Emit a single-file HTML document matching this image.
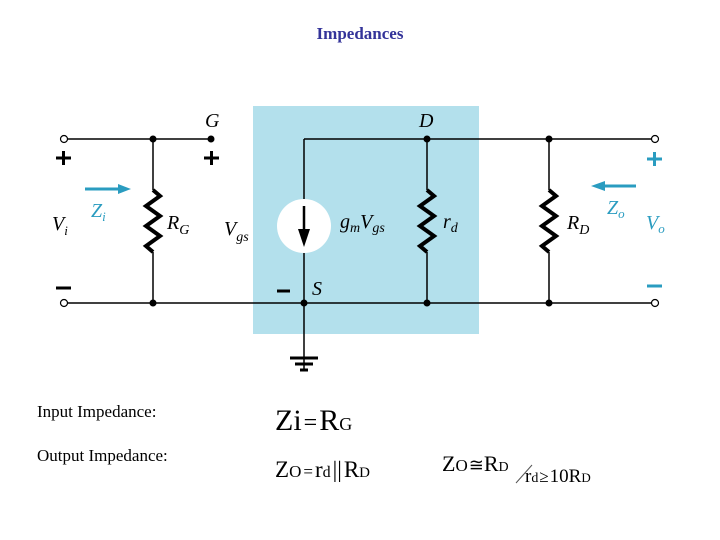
<!DOCTYPE html>
<html><head><meta charset="utf-8"><style>
html,body{margin:0;padding:0;background:#fff;width:720px;height:540px;overflow:hidden}
svg{display:block}
</style></head><body>
<svg width="720" height="540" viewBox="0 0 720 540" xmlns="http://www.w3.org/2000/svg" font-family="Liberation Serif, serif">
<text x="360" y="39" text-anchor="middle" font-size="17" font-weight="bold" fill="#333399">Impedances</text>
<rect x="253" y="106" width="226" height="228" fill="#b3e0ec"/>
<g stroke="#000" stroke-width="1.5" fill="none">
<line x1="67" y1="139" x2="211" y2="139"/>
<line x1="304" y1="139" x2="652" y2="139"/>
<line x1="67" y1="303" x2="652" y2="303"/>
<line x1="304" y1="139" x2="304" y2="370"/>
<line x1="153" y1="139" x2="153" y2="190"/><line x1="153" y1="252" x2="153" y2="303"/>
<line x1="427" y1="139" x2="427" y2="190"/><line x1="427" y1="252" x2="427" y2="303"/>
<line x1="549" y1="139" x2="549" y2="190"/><line x1="549" y1="252" x2="549" y2="303"/>
</g>
<g stroke="#000" stroke-width="4" fill="none" stroke-linejoin="miter">
<polyline points="153,190 160,196 146,206 160,216 146,226 160,236 146,246 153,252"/>
<polyline points="427,190 434,196 420,206 434,216 420,226 434,236 420,246 427,252"/>
<polyline points="549,190 556,196 542,206 556,216 542,226 556,236 542,246 549,252"/>
</g>
<circle cx="304" cy="226" r="27" fill="#fff"/>
<line x1="304" y1="206" x2="304" y2="232" stroke="#000" stroke-width="2.5"/>
<polygon points="298,229 310,229 304,247" fill="#000"/>
<g stroke="#000" stroke-width="3">
<line x1="290" y1="358" x2="318" y2="358"/><line x1="295" y1="364" x2="313" y2="364"/><line x1="300" y1="370" x2="308" y2="370"/>
</g>
<g fill="#000">
<circle cx="153" cy="139" r="3.5"/><circle cx="211" cy="139" r="3.5"/><circle cx="427" cy="139" r="3.5"/><circle cx="549" cy="139" r="3.5"/>
<circle cx="153" cy="303" r="3.5"/><circle cx="304" cy="303" r="3.5"/><circle cx="427" cy="303" r="3.5"/><circle cx="549" cy="303" r="3.5"/>
</g>
<g fill="#fff" stroke="#000" stroke-width="1.2">
<circle cx="64" cy="139" r="3.5"/><circle cx="64" cy="303" r="3.5"/><circle cx="655" cy="139" r="3.5"/><circle cx="655" cy="303" r="3.5"/>
</g>
<g stroke="#000" stroke-width="3">
<line x1="56" y1="158" x2="71" y2="158"/><line x1="63.5" y1="151" x2="63.5" y2="165"/>
<line x1="204" y1="158" x2="219" y2="158"/><line x1="211.5" y1="151" x2="211.5" y2="165"/>
<line x1="56" y1="288" x2="71" y2="288"/>
<line x1="277" y1="291" x2="290" y2="291"/>
</g>
<g stroke="#2a9cc0" stroke-width="3">
<line x1="647" y1="159" x2="662" y2="159"/><line x1="654.5" y1="152" x2="654.5" y2="166"/>
<line x1="647" y1="286" x2="662" y2="286"/>
<line x1="85" y1="189" x2="120" y2="189"/>
<line x1="603" y1="186" x2="636" y2="186"/>
</g>
<polygon points="118,184 131,189 118,194" fill="#2a9cc0"/>
<polygon points="605,181 591,186 605,191" fill="#2a9cc0"/>
<g font-style="italic" font-size="20" fill="#000">
<text x="205" y="127">G</text>
<text x="419" y="127">D</text>
<text x="312" y="295">S</text>
<text x="52" y="230">V<tspan font-size="13" dy="5">i</tspan></text>
<text x="167" y="229">R<tspan font-size="14" dy="5">G</tspan></text>
<text x="224" y="235">V<tspan font-size="14" dy="6">gs</tspan></text>
<text x="340" y="228">g<tspan font-size="14" dy="4">m</tspan><tspan dy="-4">V</tspan><tspan font-size="14" dy="4">gs</tspan></text>
<text x="443" y="228">r<tspan font-size="14" dy="4">d</tspan></text>
<text x="567" y="229">R<tspan font-size="14" dy="5">D</tspan></text>
</g>
<g font-style="italic" font-size="20" fill="#2a9cc0">
<text x="91" y="217">Z<tspan font-size="13" dy="4">i</tspan></text>
<text x="607" y="214">Z<tspan font-size="13" dy="4">o</tspan></text>
<text x="646" y="229">V<tspan font-size="13" dy="4">o</tspan></text>
</g>
<g fill="#000">
<text x="37" y="417" font-size="17">Input Impedance:</text>
<text x="37" y="461" font-size="17">Output Impedance:</text>
<text x="275" y="430" font-size="30">Zi<tspan font-size="24" dx="2">=</tspan><tspan dx="2">R</tspan><tspan font-size="18">G</tspan></text>
<text x="275" y="477" font-size="23">Z<tspan font-size="17">O</tspan><tspan font-size="17" dx="2">=</tspan><tspan dx="2">r</tspan><tspan font-size="16">d</tspan><tspan dx="2">||</tspan><tspan dx="2">R</tspan><tspan font-size="15">D</tspan></text>
<text x="442" y="471" font-size="22">Z<tspan font-size="17">O</tspan><tspan font-size="18" dx="1">≅</tspan><tspan>R</tspan><tspan font-size="14">D</tspan></text>
<line x1="516" y1="483" x2="532" y2="465" stroke="#555" stroke-width="1"/>
<text x="525" y="482" font-size="19">r<tspan font-size="14">d</tspan><tspan font-size="17" dx="1">≥</tspan><tspan dx="1">10R</tspan><tspan font-size="13">D</tspan></text>
</g>
</svg>
</body></html>
